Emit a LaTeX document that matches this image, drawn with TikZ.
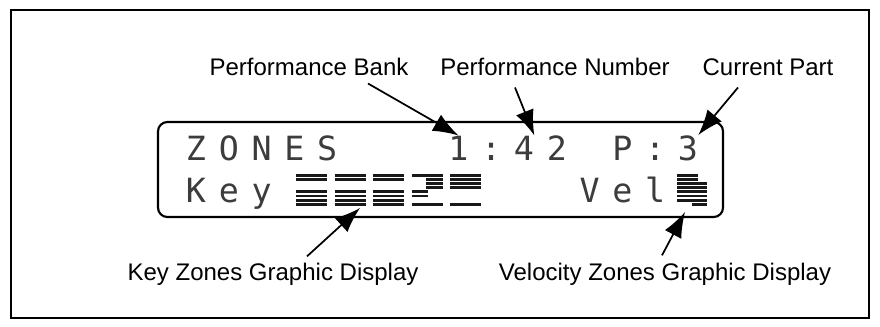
\documentclass[tikz,border=0pt]{standalone}
\usepackage{fontspec}
\setmainfont{Liberation Sans}
\newfontfamily\lcdfont{DejaVu Sans Mono}
\usepackage{xcolor}
\usepackage{tikz}
\usetikzlibrary{arrows.meta,calc}
\definecolor{lcdgray}{RGB}{60,60,60}

\begin{document}
\begin{tikzpicture}[x=0.75pt,y=-0.75pt,
    frame/.style={line width=1.6pt},
    lcd/.style={anchor=base, inner sep=0pt, font=\lcdfont\fontsize{25}{25}\selectfont, text=lcdgray},
    lbl/.style={anchor=base, inner sep=1.5pt, font=\fontsize{18}{20}\selectfont},
    pointer/.style={line width=1.3pt, -{Latex[length=19pt,width=14pt]}},
    bar/.style={line width=2.2pt, draw=black!90}]
  \useasboundingbox (0,0) rectangle (880,326);
  \draw[frame] (11,10) rectangle (869,318);
  \draw[frame, rounded corners=7pt] (158,122) rectangle (723,217);
  % first row of the display
  \foreach \i/\ch in {0/Z,1/O,2/N,3/E,4/S,8/1,9/:,10/4,11/2,13/P,14/:,15/3}
    \node[lcd] (a\i) at ({196+32.8*\i},160) {\ch};
  % second row of the display
  \foreach \i/\ch in {0/K,1/e,2/y,12/V,13/e,14/l}
    \node[lcd] (b\i) at ({196+32.8*\i},202) {\ch};
  % key zone bars
  \foreach \bx/\rows in {296/{0,1,4,5,6,7},334.5/{0,1,4,5,6,7},373/{0,1,4,5,6,7},450/{0,1,2,3,7}}
    \foreach \r in \rows
      \draw[bar] (\bx,{175.5+4.1*\r}) -- ++(31,0);
  \foreach \bx/\r/\w in {411.5/0/31,425.5/1/17,425.5/2/17,425.5/3/17,411.5/4/16,411.5/5/16,411.5/7/31}
    \draw[bar] (\bx,{175.5+4.1*\r}) -- ++(\w,0);
  % velocity zone bars
  \foreach \bx/\r/\w in {677/0/21,677/1/21,677/2/30,677/3/30,677/4/30,677/5/30,677/6/30,692/7/15}
    \draw[bar] (\bx,{175.5+4.1*\r}) -- ++(\w,0);
  \coordinate (keytip) at (360,208);
  \coordinate (veltip) at (685,212);
  % labels
  \node[lbl] (bank) at (309,75) {Performance Bank};
  \node[lbl] (number) at (555,75) {Performance Number};
  \node[lbl] (part) at (768,75) {Current Part};
  \node[lbl] (keyz) at (273,280) {Key Zones Graphic Display};
  \node[lbl] (velz) at (665,280) {Velocity Zones Graphic Display};
  \draw[pointer] ($(bank.south)+(59,6)$) -- (a8.north);
  \draw[pointer] ($(number.south)+(-40,10)$) -- (a10.north east);
  \draw[pointer] ($(part.south)+(-30,10)$) -- (a15.north east);
  \draw[pointer] ($(keyz.north)+(34,-4)$) -- (keytip);
  \draw[pointer] ($(velz.north)+(-3,-5)$) -- (veltip);
\end{tikzpicture}
\end{document}
